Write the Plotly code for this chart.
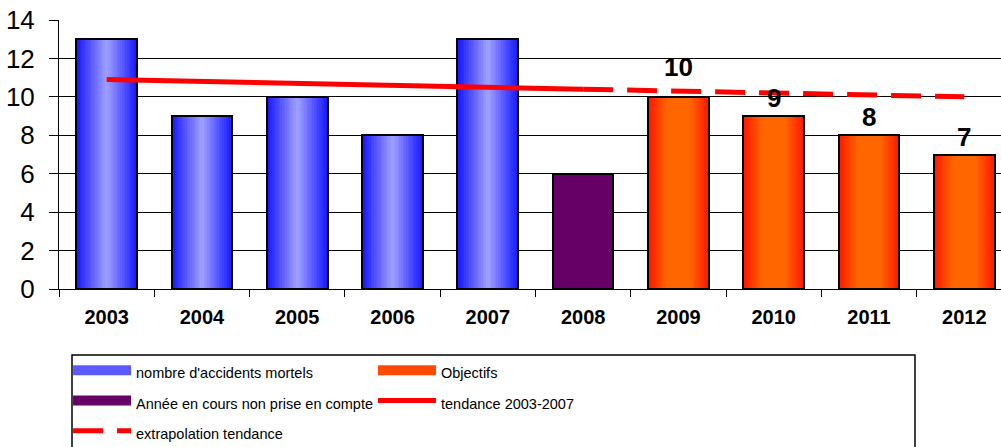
import plotly.graph_objects as go

# ---- data ----
years = ["2003", "2004", "2005", "2006", "2007", "2008", "2009", "2010", "2011", "2012"]
accident_years = ["2003", "2004", "2005", "2006", "2007"]
accidents = [13, 9, 10, 8, 13]
current_year = ["2008"]
current_value = [6]
objective_years = ["2009", "2010", "2011", "2012"]
objectives = [10, 9, 8, 7]
trend_years = ["2003", "2004", "2005", "2006", "2007", "2008"]
trend_values = [10.9, 10.8, 10.7, 10.6, 10.5, 10.4]
extrap_years = ["2008", "2009", "2010", "2011", "2012"]
extrap_values = [10.4, 10.3, 10.2, 10.1, 10.0]
y_ticks = [0, 2, 4, 6, 8, 10, 12, 14]

BAR_W = 0.637
FONT = "Liberation Sans, Arial, sans-serif"


def mix(c1, c2, t):
    return "rgb(%d,%d,%d)" % tuple(round(a + (b - a) * t) for a, b in zip(c1, c2))


fig = go.Figure()


def gradient_bars(xs, ys, edge, center, n=18, ramp=1.0):
    for k in range(n):
        f = 1 - k / n
        t = min(1.0, (1 - f) / ramp)
        fig.add_trace(go.Bar(
            x=xs, y=ys, width=BAR_W * f,
            marker=dict(color=mix(edge, center, t), line=dict(width=0)),
            showlegend=False, hoverinfo="skip"))
    fig.add_trace(go.Bar(
        x=xs, y=ys, width=BAR_W,
        marker=dict(color="rgba(0,0,0,0)", line=dict(color="black", width=2)),
        showlegend=False))


gradient_bars(accident_years, accidents, (25, 25, 255), (158, 158, 255), ramp=0.95)
gradient_bars(objective_years, objectives, (255, 25, 0), (255, 102, 0), ramp=0.6)
fig.add_trace(go.Bar(
    x=current_year, y=current_value, width=BAR_W,
    marker=dict(color="#660066", line=dict(color="black", width=2)),
    showlegend=False))


def leg(txt):
    return '<span style="font-size:14.5px">%s</span>' % txt


# legend entries (column 1 -> legend, column 2 -> legend2)
fig.add_trace(go.Scatter(x=[None], y=[None], mode="lines", name=leg("nombre d'accidents mortels"),
                         line=dict(color="#5a5aff", width=10), legend="legend"))
fig.add_trace(go.Scatter(x=[None], y=[None], mode="lines", name=leg("Objectifs"),
                         line=dict(color="#ff4a00", width=10), legend="legend2"))
fig.add_trace(go.Scatter(x=[None], y=[None], mode="lines", name=leg("Année en cours non prise en compte"),
                         line=dict(color="#660066", width=10), legend="legend"))

fig.add_trace(go.Scatter(x=trend_years, y=trend_values, mode="lines", name=leg("tendance 2003-2007"),
                         line=dict(color="#ff0000", width=5), legend="legend2"))
fig.add_trace(go.Scatter(x=extrap_years, y=extrap_values, mode="lines", name=leg("extrapolation tendance"),
                         line=dict(color="#ff0000", width=5, dash="30px,14px"), legend="legend"))

# value labels for objectives
ext = dict(zip(extrap_years, extrap_values))
for yr, v in zip(objective_years, objectives):
    base = v
    shift = 1
    if ext.get(yr, -99) - v < 0.5:
        base = ext[yr]
        shift = 7
    fig.add_annotation(x=years.index(yr), y=base, xref="x", yref="y",
                       text="<b>%d</b>" % v, showarrow=False,
                       yanchor="bottom", yshift=shift,
                       font=dict(family=FONT, size=26, color="black"))

# legend frame
fig.add_shape(type="rect", xref="paper", yref="paper", x0=0.0138, x1=0.9087, y0=-0.7, y1=-0.2454,
              line=dict(color="black", width=1.5), fillcolor="rgba(0,0,0,0)")

leg_common = dict(orientation="v", yanchor="top", xanchor="left", borderwidth=0,
                  bgcolor="rgba(0,0,0,0)", itemwidth=58,
                  font=dict(family=FONT, size=21, color="black"), traceorder="normal")

fig.update_layout(
    width=1001, height=447,
    margin=dict(l=59, r=0, t=20, b=158, autoexpand=False),
    paper_bgcolor="white", plot_bgcolor="white",
    barmode="overlay", bargap=0,
    showlegend=True,
    legend=dict(x=0.0096, y=-0.2268, **leg_common),
    legend2=dict(x=0.3333, y=-0.2268, **leg_common),
    xaxis=dict(type="category", categoryorder="array", categoryarray=years,
               range=[-0.5, 9.385], showline=True, linecolor="black", linewidth=1,
               ticks="outside", tickson="boundaries", ticklen=7, tickcolor="black",
               ticklabelstandoff=10, showgrid=False, zeroline=False, automargin=False,
               tickfont=dict(family=FONT, size=20, color="black", weight="bold")),
    yaxis=dict(range=[0, 14], tickvals=y_ticks, showgrid=True, gridcolor="black", gridwidth=1,
               showline=True, linecolor="black", linewidth=1, zeroline=False, automargin=False,
               ticks="outside", ticklen=9, tickcolor="black", ticklabelstandoff=9,
               ticklabeloverflow="allow",
               tickfont=dict(family=FONT, size=26, color="black")),
)

fig.write_html("out.html", config={"displayModeBar": False},
               post_script="document.body.style.margin='0';document.body.style.overflow='hidden';")
